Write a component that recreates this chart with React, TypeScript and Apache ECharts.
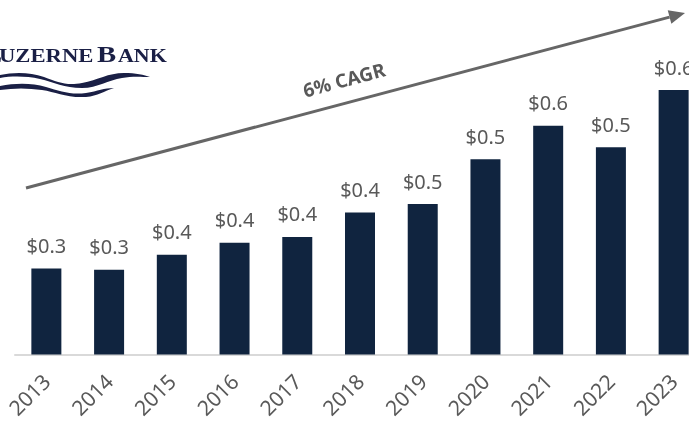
import React, { useEffect, useRef } from "react";
import * as echarts from "echarts";

const categories = ["2013", "2014", "2015", "2016", "2017", "2018", "2019", "2020", "2021", "2022", "2023"];
const values = [0.344, 0.342, 0.367, 0.387, 0.397, 0.438, 0.452, 0.527, 0.583, 0.547, 0.643];
const arrowLabel = "6% CAGR";

const waveA = "M0,75 C14,72 30,72 44,77 C58,82 66,86 82,83 C98,80 108,73 124,73 C136,73 144,75 150,77 C142,77 132,76 122,78 C108,80 98,88 82,88 C64,88 54,82 40,79 C26,76 12,76 0,78 Z";
const waveB = "M0,86 C16,83 32,83 46,87 C60,91 70,95 86,93 C98,91 104,88 114,88 C104,91 98,96 86,97 C66,98 56,92 42,90 C28,88 14,88 0,90 Z";

let registered = false;
function registerShapes() {
  if (registered) return;
  registered = true;
  echarts.graphic.registerShape("waveA", echarts.graphic.extendPath(waveA, {}));
  echarts.graphic.registerShape("waveB", echarts.graphic.extendPath(waveB, {}));
}

export default function App() {
  const ref = useRef<HTMLDivElement>(null);
  useEffect(() => {
    if (!ref.current) return;
    registerShapes();
    const chart = echarts.init(ref.current, null, { renderer: "svg" });
    const tip = [685, 13];
    const ux = 0.966, uy = -0.257;
    const nx = 0.257, ny = 0.966;
    const L = 16, W = 7;
    const bx = tip[0] - L * ux, by = tip[1] - L * uy;
    const navy = "#1a1f45";
    chart.setOption({
      animation: false,
      grid: { left: 15, right: 0, top: 56, bottom: 65, containLabel: false },
      xAxis: {
        type: "category",
        data: categories,
        axisLine: { show: true, lineStyle: { color: "#d9d9d9", width: 2 } },
        axisTick: { show: false },
        axisLabel: {
          rotate: 45,
          margin: 23,
          color: "#595959",
          fontSize: 21,
          fontFamily: "Noto Sans",
          interval: 0,
        },
      },
      yAxis: { type: "value", min: 0.2, max: 0.7, show: false, splitLine: { show: false } },
      series: [
        {
          type: "bar",
          data: values,
          barWidth: 30,
          itemStyle: { color: "#10243f" },
          label: {
            show: true,
            position: "top",
            distance: 13,
            color: "#595959",
            fontSize: 20,
            fontFamily: "Noto Sans",
            formatter: (p: any) => "$" + Number(p.value).toFixed(1),
          },
        },
      ],
      graphic: [
        {
          type: "line",
          shape: { x1: 26, y1: 188, x2: bx, y2: by },
          style: { stroke: "#666666", lineWidth: 3 },
        },
        {
          type: "polygon",
          shape: {
            points: [
              [tip[0], tip[1]],
              [bx + W * nx, by + W * ny],
              [bx - W * nx, by - W * ny],
            ],
          },
          style: { fill: "#666666" },
        },
        {
          type: "text",
          x: 344,
          y: 80,
          rotation: (15 * Math.PI) / 180,
          style: {
            text: arrowLabel,
            fill: "#595959",
            font: "bold 19px 'Noto Sans'",
            align: "center",
            verticalAlign: "middle",
          },
        },
        {
          type: "text",
          x: -17,
          y: 66,
          scaleX: 1.25,
          style: { text: "L", fill: navy, font: "bold 23px 'Liberation Serif'", align: "left", verticalAlign: "bottom" },
        },
        {
          type: "text",
          x: -1,
          y: 65,
          scaleX: 1.26,
          style: { text: "UZERNE", fill: navy, font: "bold 18px 'Liberation Serif'", align: "left", verticalAlign: "bottom" },
        },
        {
          type: "text",
          x: 97,
          y: 66,
          scaleX: 1.25,
          style: { text: "B", fill: navy, font: "bold 23px 'Liberation Serif'", align: "left", verticalAlign: "bottom" },
        },
        {
          type: "text",
          x: 118,
          y: 65,
          scaleX: 1.22,
          style: { text: "ANK", fill: navy, font: "bold 18px 'Liberation Serif'", align: "left", verticalAlign: "bottom" },
        },
        { type: "waveA", x: 0, y: 0, style: { fill: navy } },
        { type: "waveB", x: 0, y: 0, style: { fill: navy } },
      ],
    });
    return () => chart.dispose();
  }, []);
  return (
    <div style={{ position: "fixed", left: 0, top: 0, width: 689, height: 421, overflow: "hidden" }}>
      <div ref={ref} style={{ width: 705, height: 421 }} />
    </div>
  );
}
